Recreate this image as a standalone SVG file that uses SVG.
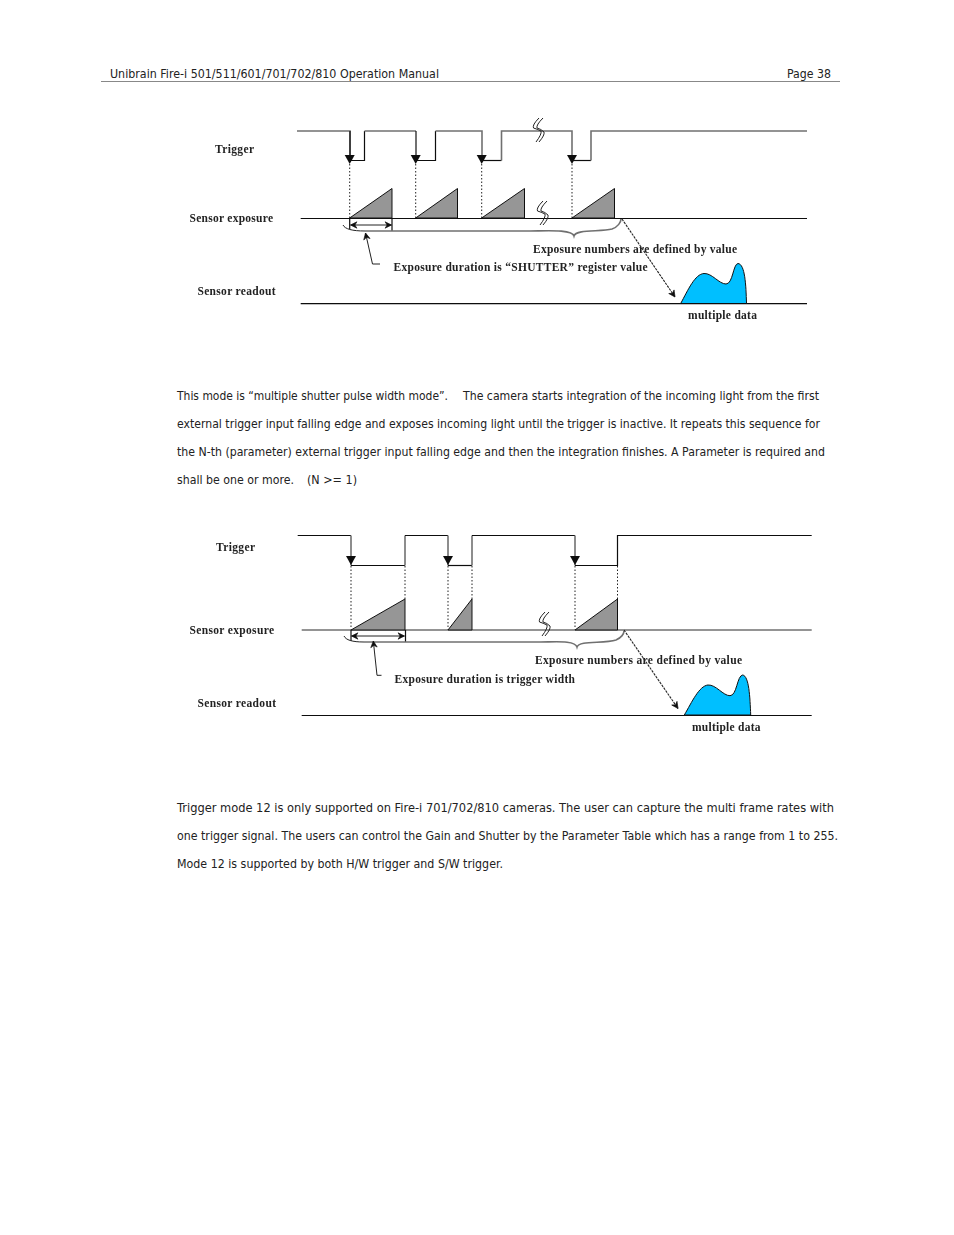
<svg xmlns="http://www.w3.org/2000/svg" xmlns:xlink="http://www.w3.org/1999/xlink" width="954" height="1235" viewBox="0 0 954 1235">
<style>
.body{font-family:"DejaVu Sans",Verdana,sans-serif;font-size:11.6px;fill:#222}
.lab{font-family:"Liberation Serif","Times New Roman",serif;font-size:11.5px;font-weight:bold;fill:#222}
.k{fill:none;stroke:#111;stroke-width:1.2}
.g{fill:none;stroke:#707070;stroke-width:1.6}
.dot{fill:none;stroke:#222;stroke-width:1;stroke-dasharray:1.5 2}
.tri{fill:#969696;stroke:#111;stroke-width:1}
.blob{fill:#00bfff;stroke:#111;stroke-width:1}
.thin{fill:none;stroke:#222;stroke-width:1}
.dash{fill:none;stroke:#222;stroke-width:1.1;stroke-dasharray:2.5 1}
</style>
<defs>
<filter id="soft" x="-2%" y="-2%" width="104%" height="104%"><feGaussianBlur stdDeviation="0.3"/></filter>
<path id="ah" d="M-5,-9 L5,-9 L0,0 Z" fill="#111"/>
<path id="sq" class="thin" d="M7,1 Q0,8 1.500,11 Q5,12 9,14 Q10,17 4,25 M11,1 Q4,8 5,11 Q9,12 12,15 Q13,18 7,25"/>
<marker id="open" viewBox="0 0 10 10" refX="9" refY="5" markerWidth="8" markerHeight="8" orient="auto-start-reverse" markerUnits="userSpaceOnUse"><path d="M1,1 L9,5 L1,9 L3.500,5 Z" fill="#111" stroke="#111" stroke-width="0.8"/></marker>
</defs>
<rect width="954" height="1235" fill="#fff"/>
<g id="header">
<text class="body" x="110" y="77.600" textLength="329" lengthAdjust="spacingAndGlyphs">Unibrain Fire-i 501/511/601/701/702/810 Operation Manual</text>
<text class="body" x="787" y="77.600" textLength="44" lengthAdjust="spacingAndGlyphs">Page 38</text>
<path d="M101,81.500H840" fill="none" stroke="#888" stroke-width="1"/>
</g>
<g id="diagram-1-connectors" filter="url(#soft)">
<path class="g" d="M297,131H350V160.500"/>
<path class="k" d="M350,131V160.500H364.500V131"/>
<path class="g" d="M364.500,131H416"/>
<path class="k" d="M416,131V160.500H435.500V131"/>
<path class="g" d="M435.500,131H482V160.500"/>
<path class="k" d="M482,160.500H501.500"/>
<path class="g" d="M501.500,160.500V131H572V160.500"/>
<path class="k" d="M572,160.500H591"/>
<path class="g" d="M591,160.500V131H807"/>
<use xlink:href="#ah" x="349.700" y="164"/><use xlink:href="#ah" x="415.700" y="164"/><use xlink:href="#ah" x="481.700" y="164"/><use xlink:href="#ah" x="572" y="164"/>
<path class="dot" d="M349.700,164V218M415.700,164V218M481.700,164V218M572,164V218"/>
<path class="k" d="M300.700,218.500H807M300.700,303.700H807"/>
<path class="k" d="M349.700,218V229M392,218V231"/>
<path class="thin" d="M343,225 C345,229 352,231 365,231"/>
<path class="g" d="M365,231H530C545,231 572,229 574,236C576,229 600,232 612,229C618,227 621,222 621,219"/>
<path class="thin" d="M350.500,225H391.500" marker-start="url(#open)" marker-end="url(#open)"/>
<path class="thin" d="M380,264H372.500L365.500,233" marker-end="url(#open)"/>
<path class="dash" d="M622,219L675,297" marker-end="url(#open)"/>
<use xlink:href="#sq" x="532" y="117"/><use xlink:href="#sq" x="536" y="200"/>
</g>
<g id="diagram-1-nodes" filter="url(#soft)">
<g id="d1-exp-1"><path class="tri" d="M349.700,218L392,188.500V218Z"/></g>
<g id="d1-exp-2"><path class="tri" d="M415.700,218L457.500,188.500V218Z"/></g>
<g id="d1-exp-3"><path class="tri" d="M481.700,218L524.500,188.500V218Z"/></g>
<g id="d1-exp-4"><path class="tri" d="M572,218L614.500,188.500V218Z"/></g>
<g id="d1-data"><path class="blob" d="M680.700,303.500C688,290 695,274 704,273.500C712,273 719,284 726,284C733,284 733,264 738,263.500C745,264 746,285 746.500,303.500Z"/></g>
<text class="lab" x="215" y="152.800" textLength="39">Trigger</text>
<text class="lab" x="189.500" y="222.300" textLength="83.500">Sensor exposure</text>
<text class="lab" x="197.500" y="294.800" textLength="78">Sensor readout</text>
<text class="lab" x="533" y="252.800" textLength="204">Exposure numbers are defined by value</text>
<text class="lab" x="393.500" y="271.300" textLength="254">Exposure duration is “SHUTTER” register value</text>
<text class="lab" x="688" y="319.300" textLength="69">multiple data</text>
</g>
<g id="paragraph-1">
<text class="body" x="177" y="399.600" textLength="271" lengthAdjust="spacingAndGlyphs">This mode is “multiple shutter pulse width mode”.</text>
<text class="body" x="463" y="399.600" textLength="356" lengthAdjust="spacingAndGlyphs">The camera starts integration of the incoming light from the first</text>
<text class="body" x="177" y="427.600" textLength="643" lengthAdjust="spacingAndGlyphs">external trigger input falling edge and exposes incoming light until the trigger is inactive. It repeats this sequence for</text>
<text class="body" x="177" y="455.600" textLength="648" lengthAdjust="spacingAndGlyphs">the N-th (parameter) external trigger input falling edge and then the integration finishes. A Parameter is required and</text>
<text class="body" x="177" y="483.600" textLength="117" lengthAdjust="spacingAndGlyphs">shall be one or more.</text>
<text class="body" x="307" y="483.600" textLength="50" lengthAdjust="spacingAndGlyphs">(N &gt;= 1)</text>
</g>
<g id="diagram-2-connectors" filter="url(#soft)">
<path class="k" d="M297.700,535.500H351"/>
<path class="g" d="M351,535.500V565.500"/>
<path class="k" d="M351,565.500H405"/>
<path class="g" d="M405,565.500V535.500"/>
<path class="k" d="M405,535.500H448"/>
<path class="g" d="M448,535.500V565.500"/>
<path class="k" d="M448,565.500H472"/>
<path class="g" d="M472,565.500V535.500"/>
<path class="k" d="M472,535.500H575"/>
<path class="g" d="M575,535.500V565.500"/>
<path class="k" d="M575,565.500H617.500V535.500H811.700"/>
<use xlink:href="#ah" x="351" y="565"/><use xlink:href="#ah" x="448" y="565"/><use xlink:href="#ah" x="575" y="565"/>
<path class="dot" d="M351,566V630M405,566V599M448,566V630M472,566V599M575,566V630M617.500,566V599"/>
<path class="g" d="M301.700,630H811.700"/>
<path class="k" d="M301.700,715.500H811.700"/>
<path class="k" d="M351,630V641M405.500,630V642"/>
<path class="thin" d="M344,636C346,640 352,642 364,642"/>
<path class="g" d="M364,642H540C555,642 575,640 577,647C579,640 604,644 616,640C621,638 624,634 624,631"/>
<path class="thin" d="M351.500,636H404.500" marker-start="url(#open)" marker-end="url(#open)"/>
<path class="thin" d="M381.500,675.300H377L373.300,641" marker-end="url(#open)"/>
<path class="dash" d="M624,630L678,708.500" marker-end="url(#open)"/>
<use xlink:href="#sq" x="538" y="611"/>
</g>
<g id="diagram-2-nodes" filter="url(#soft)">
<g id="d2-exp-1"><path class="tri" d="M351,630L405,599V630Z"/></g>
<g id="d2-exp-2"><path class="tri" d="M448,630L472,599V630Z"/></g>
<g id="d2-exp-3"><path class="tri" d="M575,630L617.500,599V630Z"/></g>
<g id="d2-data"><path class="blob" d="M684.300,715C692,702 699,686 708,685C716,684.500 723,695.700 730,695.700C737,695.700 737,675.500 742.700,675C749,676 750,697 750.700,715Z"/></g>
<text class="lab" x="216" y="550.800" textLength="39">Trigger</text>
<text class="lab" x="189.500" y="633.800" textLength="84.500">Sensor exposure</text>
<text class="lab" x="197.500" y="706.800" textLength="78.500">Sensor readout</text>
<text class="lab" x="535" y="663.800" textLength="207">Exposure numbers are defined by value</text>
<text class="lab" x="394.500" y="682.800" textLength="180.500">Exposure duration is trigger width</text>
<text class="lab" x="692" y="730.800" textLength="68.500">multiple data</text>
</g>
<g id="paragraph-2">
<text class="body" x="177" y="811.600" textLength="657" lengthAdjust="spacingAndGlyphs">Trigger mode 12 is only supported on Fire-i 701/702/810 cameras. The user can capture the multi frame rates with</text>
<text class="body" x="177" y="839.600" textLength="661" lengthAdjust="spacingAndGlyphs">one trigger signal. The users can control the Gain and Shutter by the Parameter Table which has a range from 1 to 255.</text>
<text class="body" x="177" y="867.600" textLength="326" lengthAdjust="spacingAndGlyphs">Mode 12 is supported by both H/W trigger and S/W trigger.</text>
</g>
</svg>
